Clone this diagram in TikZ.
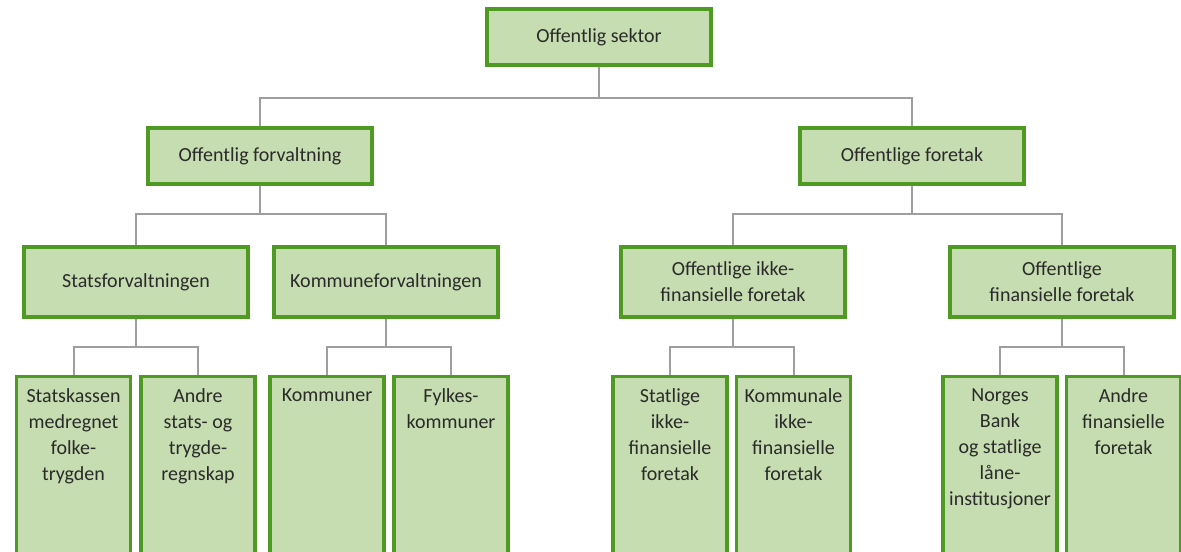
\documentclass[tikz,border=0pt]{standalone}
\usepackage{fontspec}
\setmainfont{Carlito}
\definecolor{boxfill}{HTML}{C6DDB1}
\definecolor{boxline}{HTML}{4F9A22}
\definecolor{connline}{HTML}{9E9E9E}
\definecolor{txt}{HTML}{2A2A2A}
\newcommand\leaftxt[1]{\parbox[t][120pt][t]{80pt}{\centering #1}}
\begin{document}
\begin{tikzpicture}[x=0.75pt,y=-0.75pt,
  every node/.style={font=\fontsize{15}{19.5}\selectfont, text=txt},
  box/.style={draw=boxline, line width=2.4pt, fill=boxfill, inner sep=2pt, align=center},
  topbox/.style={box, minimum width=168pt, minimum height=42pt},
  midbox/.style={box, minimum width=168pt, minimum height=52.5pt},
  leaf/.style={box, anchor=north, minimum width=85.5pt, inner xsep=2.75pt, inner ysep=9pt},
  conn/.style={draw=connline, line width=1.5pt}]
\useasboundingbox[fill=white] (0,0) rectangle (1181,551);

% level 1
\node[topbox] (sek) at (599,37) {Offentlig sektor};
% level 2
\node[topbox] (forv) at (260,156) {Offentlig forvaltning};
\node[topbox] (fore) at (912,156) {Offentlige foretak};
% level 3
\node[midbox] (stat) at (136,282) {Statsforvaltningen};
\node[midbox] (komf) at (386,282) {Kommuneforvaltningen};
\node[midbox] (ikf) at (733,282) {Offentlige ikke-\\finansielle foretak};
\node[midbox] (fin) at (1062,282) {Offentlige\\finansielle foretak};
% level 4
\node[leaf] (skas) at (73.5,375) {\leaftxt{Statskassen\\medregnet\\folke-\\trygden}};
\node[leaf] (ands) at (198,375) {\leaftxt{Andre\\stats- og\\trygde-\\regnskap}};
\node[leaf] (komm) at (327,375) {\leaftxt{Kommuner}};
\node[leaf] (fylk) at (451,375) {\leaftxt{Fylkes-\\kommuner}};
\node[leaf] (stik) at (670,375) {\leaftxt{Statlige\\ikke-\\finansielle\\foretak}};
\node[leaf] (koik) at (793.5,375) {\leaftxt{Kommunale\\ikke-\\finansielle\\foretak}};
\node[leaf] (nb) at (1000,375) {\leaftxt{Norges\\Bank\\og statlige\\låne-\\institusjoner}};
\node[leaf] (anf) at (1123.5,375) {\leaftxt{Andre\\finansielle\\foretak}};

% connectors
\foreach \p/\c/\m in {sek/forv/98, sek/fore/98,
    forv/stat/214, forv/komf/214, fore/ikf/214, fore/fin/214,
    stat/skas/347, stat/ands/347, komf/komm/347, komf/fylk/347,
    ikf/stik/347, ikf/koik/347, fin/nb/347, fin/anf/347}
  \draw[conn] (\p.south) -- (\p.south |- 0,\m) -| (\c.north);
\end{tikzpicture}
\end{document}
